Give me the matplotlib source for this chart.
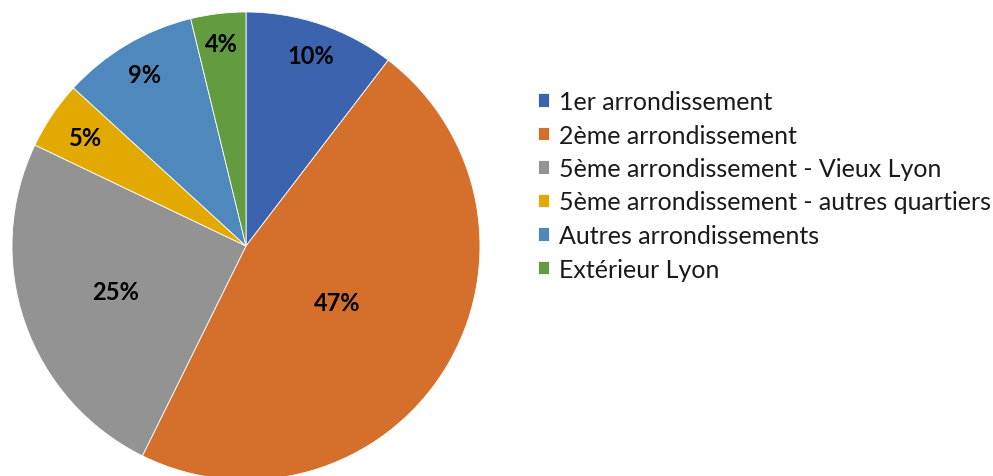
import matplotlib
matplotlib.use("Agg")
import matplotlib.pyplot as plt
import numpy as np

# data
categories = ["1er arrondissement", "2ème arrondissement", "5ème arrondissement - Vieux Lyon",
              "5ème arrondissement - autres quartiers", "Autres arrondissements", "Extérieur Lyon"]
shares = [10.4, 46.9, 24.8, 4.7, 9.4, 3.8]
colors = ["#3C64AE", "#D46F2C", "#939393", "#E2AA00", "#4F88BC", "#629B40"]

# where each percentage sits, as fraction of radius
label_dist = [0.86, 0.46, 0.59, 0.83, 0.85, 0.87]

plt.rcParams['font.family'] = ['Lato', 'DejaVu Sans']

fig = plt.figure(figsize=(9.93, 4.77), dpi=100)
ax = fig.add_axes([12 / 993, -4 / 477, 468 / 993, 468 / 477])

wedges, texts, autotexts = ax.pie(shares, colors=colors, startangle=90, counterclock=False,
                                  autopct='%.0f%%', pctdistance=0.6,
                                  wedgeprops=dict(edgecolor='white', linewidth=0.6),
                                  textprops=dict(fontsize=17, fontweight='bold', color='black'))
for t, d in zip(autotexts, label_dist):
    x, y = t.get_position()
    r = np.hypot(x, y)
    t.set_position((x / r * d, y / r * d))

ax.set_xlim(-1, 1)
ax.set_ylim(-1, 1)
ax.set_aspect('equal')
ax.axis('off')

fig.legend(wedges, categories, loc='upper left', bbox_to_anchor=(538 / 993, 1 - 91 / 477),
           frameon=False, fontsize=18, handlelength=0.45, handleheight=0.45,
           handletextpad=0.4, labelspacing=0.42, borderaxespad=0, borderpad=0,
           labelcolor='#1a1a1a')

fig.savefig("out.png", dpi=100)
